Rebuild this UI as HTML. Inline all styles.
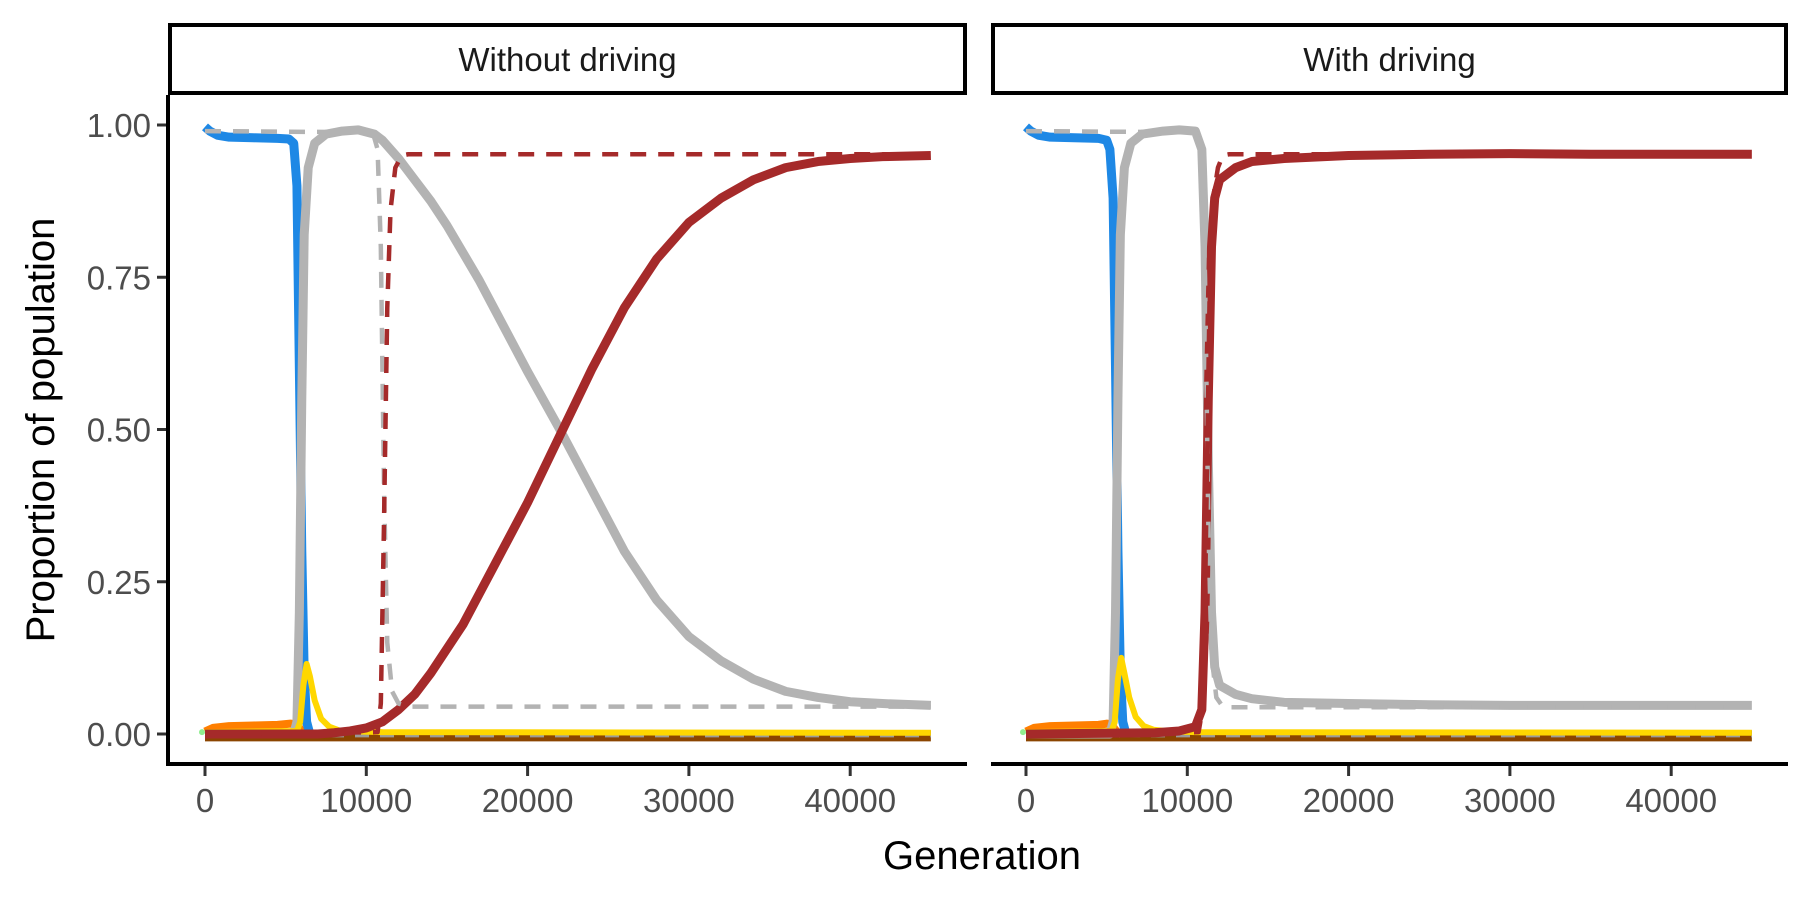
<!DOCTYPE html>
<html><head><meta charset="utf-8"><style>
html,body{margin:0;padding:0;background:#fff;}
svg{display:block;font-family:"Liberation Sans",sans-serif;}
</style></head><body>
<svg id="chart" width="1814" height="900" viewBox="0 0 1814 900">
<g id="root"></g>
</svg>
<script>
const yTicks=[0,0.25,0.5,0.75,1];
const yTickLabels=["0.00","0.25","0.50","0.75","1.00"];
const xTicks=[0,10000,20000,30000,40000];
const xTickLabels=["0","10000","20000","30000","40000"];
const panelTitles=["Without driving","With driving"];

// Left panel (without driving)
const L_blueGen=[0,300,800,1500,3000,4500,5200,5500,5700,5850,6000,6150,6300,6500];
const L_blueVal=[0.997,0.99,0.983,0.98,0.979,0.978,0.977,0.97,0.9,0.6,0.3,0.1,0.02,0];
const L_grayGen=[0,5500,5700,5850,6000,6150,6400,6800,7500,8500,9500,10500,11000,12000,13000,14000,15000,16000,17000,18000,20000,22000,24000,26000,28000,30000,32000,34000,36000,38000,40000,42000,45000];
const L_grayVal=[0,0,0.02,0.2,0.55,0.82,0.93,0.97,0.985,0.99,0.992,0.985,0.975,0.945,0.91,0.875,0.835,0.79,0.745,0.695,0.595,0.5,0.4,0.3,0.22,0.16,0.12,0.09,0.07,0.06,0.053,0.05,0.047];
const L_redGen=[0,7000,8000,9000,10000,11000,12000,13000,14000,15000,16000,17000,18000,20000,22000,24000,26000,28000,30000,32000,34000,36000,38000,40000,42000,45000];
const L_redVal=[0,0,0.002,0.005,0.01,0.02,0.04,0.065,0.1,0.14,0.18,0.23,0.28,0.38,0.49,0.6,0.7,0.78,0.84,0.88,0.91,0.93,0.94,0.945,0.948,0.95];
const L_grayDashGen=[0,10400,10700,10900,11100,11300,11600,12000,12600,45000];
const L_grayDashVal=[0.99,0.988,0.96,0.8,0.4,0.15,0.07,0.05,0.045,0.045];
const L_redDashGen=[0,10700,10900,11100,11300,11500,11800,12200,12600,45000];
const L_redDashVal=[0,0.003,0.05,0.35,0.7,0.86,0.93,0.95,0.952,0.952];
const L_yellowGen=[0,5700,5900,6100,6300,6500,6800,7200,7700,8300,9500,11000,45000];
const L_yellowVal=[0.003,0.005,0.02,0.08,0.115,0.095,0.055,0.025,0.012,0.006,0.004,0.003,0.002];
const L_orangeGen=[0,500,1500,3000,4500,5300,5700,5900,6100,6300];
const L_orangeVal=[0.004,0.01,0.013,0.014,0.015,0.017,0.016,0.008,0.002,0];

// Right panel (with driving)
const R_blueGen=[0,300,800,1500,3000,4500,5000,5200,5400,5550,5700,5850,6000,6200];
const R_blueVal=[0.997,0.99,0.983,0.98,0.979,0.978,0.975,0.96,0.88,0.6,0.3,0.1,0.02,0];
const R_grayGen=[0,5200,5400,5550,5700,5850,6100,6500,7200,8500,9500,10500,10900,11100,11300,11500,11700,12000,13000,14000,16000,20000,25000,30000,35000,40000,45000];
const R_grayVal=[0,0,0.02,0.2,0.55,0.82,0.93,0.97,0.985,0.99,0.992,0.99,0.96,0.8,0.45,0.2,0.11,0.08,0.065,0.058,0.052,0.05,0.048,0.047,0.047,0.047,0.047];
const R_redGen=[0,8000,9500,10500,10900,11100,11300,11500,11700,12000,13000,14000,16000,20000,25000,30000,35000,40000,45000];
const R_redVal=[0,0.002,0.005,0.012,0.04,0.2,0.55,0.8,0.88,0.91,0.93,0.94,0.945,0.95,0.952,0.953,0.952,0.952,0.952];
const R_grayDashGen=[0,10500,10900,11100,11300,11500,11800,12200,12600,45000];
const R_grayDashVal=[0.99,0.988,0.96,0.75,0.35,0.13,0.06,0.045,0.044,0.044];
const R_redDashGen=[0,10700,11000,11200,11400,11600,11900,12200,12600,45000];
const R_redDashVal=[0,0.003,0.05,0.4,0.75,0.88,0.93,0.95,0.952,0.952];
const R_yellowGen=[0,5300,5500,5700,5900,6100,6400,6800,7300,7900,9000,10500,45000];
const R_yellowVal=[0.003,0.005,0.02,0.09,0.125,0.1,0.06,0.028,0.013,0.007,0.004,0.003,0.002];
const R_orangeGen=[0,500,1500,3000,4500,5000,5300,5500,5700,5900];
const R_orangeVal=[0.004,0.01,0.013,0.014,0.015,0.017,0.016,0.008,0.002,0];

const baseGen=[0,45000];
const baseVal=[-0.003,-0.003];
const lightBlueVal=[0.004,0.004];

const NS="http://www.w3.org/2000/svg";
const root=document.getElementById('root');
function mk(tag,attrs,parent){const e=document.createElementNS(NS,tag);for(const k in attrs)e.setAttribute(k,attrs[k]);(parent||root).appendChild(e);return e;}

const Y0=734, YPER=609;
function yScale(v){return Y0-YPER*v;}
const XPER=161.3/10000;
const panels=[{x0:205,left:168,right:967},{x0:1026,left:991,right:1788}];

function line(p,gens,vals,color,w,dash,name,parent){
  const xs=g=>p.x0+g*XPER;
  let d='';
  for(let i=0;i<gens.length;i++){d+=(i?'L':'M')+xs(gens[i]).toFixed(2)+','+yScale(vals[i]).toFixed(2);}
  const el=mk('path',{d:d,fill:'none',stroke:color,'stroke-width':w,'stroke-linejoin':'round','stroke-linecap':'butt'},parent);
  if(dash)el.setAttribute('stroke-dasharray',dash);
  
  
  return el;
}

const sets=[
 {blueG:L_blueGen,blueV:L_blueVal,grayG:L_grayGen,grayV:L_grayVal,redG:L_redGen,redV:L_redVal,gdG:L_grayDashGen,gdV:L_grayDashVal,rdG:L_redDashGen,rdV:L_redDashVal,yG:L_yellowGen,yV:L_yellowVal,oG:L_orangeGen,oV:L_orangeVal},
 {blueG:R_blueGen,blueV:R_blueVal,grayG:R_grayGen,grayV:R_grayVal,redG:R_redGen,redV:R_redVal,gdG:R_grayDashGen,gdV:R_grayDashVal,rdG:R_redDashGen,rdV:R_redDashVal,yG:R_yellowGen,yV:R_yellowVal,oG:R_orangeGen,oV:R_orangeVal}
];

panels.forEach((p,i)=>{
  const g=mk('g',{});
  
  
  const st=mk('rect',{x:p.left+2,y:25,width:p.right-p.left-4,height:68,fill:'#fff',stroke:'#000','stroke-width':4},g);
  
  
  const stt=mk('text',{x:(p.left+p.right)/2,y:71,'text-anchor':'middle','font-size':33,fill:'#1a1a1a'},g);
  stt.textContent=panelTitles[i];
  
  
  const s=sets[i];
  line(p,baseGen,lightBlueVal,'#87CEEB',2.5,null,'light-blue-line',g);
  line(p,baseGen,baseVal,'#8B4500',11,null,'brown-line',g);
  line(p,baseGen,baseVal,'#9a9a9a',3,'14,11','baseline-dashed',g);
  line(p,s.oG,s.oV,'#FF7F00',8,null,'orange-line',g);
  line(p,s.blueG,s.blueV,'#1E88E5',9,null,'blue-line',g);
  line(p,s.grayG,s.grayV,'#B3B3B3',9,null,'gray-line',g);
  line(p,s.yG,s.yV,'#FFD700',6,null,'yellow-line',g);
  line(p,s.redG,s.redV,'#A52A2A',9,null,'red-line',g);
  line(p,s.gdG,s.gdV,'#B3B3B3',4.5,'16,12','gray-dashed-line',g);
  line(p,s.rdG,s.rdV,'#A52A2A',4.5,'16,12','red-dashed-line',g);
  const dot=mk('circle',{cx:p.x0-3,cy:yScale(0.003),r:3,fill:'#90EE90'},g);
  
  
  const xa=mk('line',{x1:p.left,x2:p.right,y1:764,y2:764,stroke:'#000','stroke-width':4},g);
  
  
  xTicks.forEach((t,k)=>{
    const x=p.x0+t*XPER;
    const tk=mk('line',{x1:x,x2:x,y1:766,y2:776,stroke:'#333','stroke-width':3},g);
    
    
    const tl=mk('text',{x:x,y:812,'text-anchor':'middle','font-size':33,fill:'#4d4d4d'},g);
    tl.textContent=xTickLabels[k];
    
    
  });
});
const ya=mk('line',{x1:168,x2:168,y1:95,y2:766,stroke:'#000','stroke-width':4});


yTicks.forEach((t,k)=>{
  const y=yScale(t);
  const tk=mk('line',{x1:157,x2:166,y1:y,y2:y,stroke:'#333','stroke-width':3});
  
  
  const tl=mk('text',{x:151,y:y+12,'text-anchor':'end','font-size':33,fill:'#4d4d4d'});
  tl.textContent=yTickLabels[k];
  
  
});
const xt=mk('text',{x:982,y:869,'text-anchor':'middle','font-size':40,fill:'#000'});
xt.textContent='Generation';


const yt=mk('text',{x:0,y:0,'text-anchor':'middle','font-size':40,fill:'#000',transform:'translate(54,430) rotate(-90)'});
yt.textContent='Proportion of population';


</script>
</body></html>
